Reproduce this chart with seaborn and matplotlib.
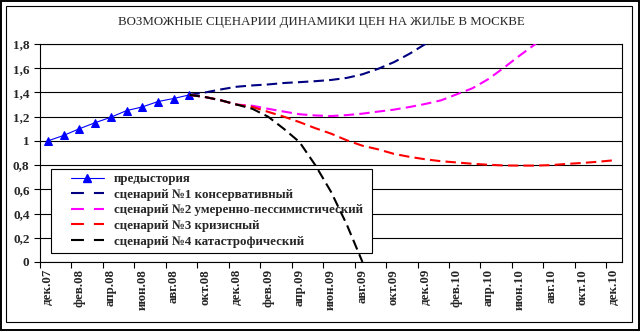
import matplotlib
matplotlib.use('Agg')
import matplotlib.pyplot as plt
import seaborn as sns
import numpy as np
import pandas as pd
from matplotlib.patches import Rectangle
from matplotlib.lines import Line2D

# ---------------- data ----------------
categories = ['дек.07', 'янв.08', 'фев.08', 'мар.08', 'апр.08', 'май.08', 'июн.08', 'июл.08',
              'авг.08', 'сен.08', 'окт.08', 'ноя.08', 'дек.08', 'янв.09', 'фев.09', 'мар.09',
              'апр.09', 'май.09', 'июн.09', 'июл.09', 'авг.09', 'сен.09', 'окт.09', 'ноя.09',
              'дек.09', 'янв.10', 'фев.10', 'мар.10', 'апр.10', 'май.10', 'июн.10', 'июл.10',
              'авг.10', 'сен.10', 'окт.10', 'ноя.10', 'дек.10']

prehistory_start = 0
prehistory = [1.00, 1.045, 1.10, 1.15, 1.195, 1.25, 1.28, 1.325, 1.35, 1.38]

scen1_start = 9
scen1 = [1.38, 1.40, 1.425, 1.447, 1.458, 1.466, 1.478, 1.485, 1.493, 1.503, 1.52,
         1.55, 1.595, 1.65, 1.72, 1.80, 1.90]

scen2_start = 9
scen2 = [1.38, 1.362, 1.335, 1.30, 1.29, 1.265, 1.242, 1.22, 1.21, 1.205, 1.213, 1.225,
         1.242, 1.258, 1.28, 1.305, 1.335, 1.385, 1.435, 1.51, 1.605, 1.705, 1.80, 1.90]

scen3_start = 9
scen3 = [1.38, 1.362, 1.335, 1.30, 1.28, 1.24, 1.20, 1.155, 1.105, 1.06, 1.005, 0.96,
         0.93, 0.893, 0.868, 0.848, 0.832, 0.822, 0.811, 0.803, 0.797, 0.796, 0.796,
         0.80, 0.81, 0.818, 0.828, 0.84]

scen4_start = 9
scen4 = [1.38, 1.362, 1.335, 1.30, 1.265, 1.20, 1.10, 0.99, 0.80, 0.58, 0.31, 0.0]

series_names = ['предыстория',
                'сценарий №1 консервативный',
                'сценарий №2 умеренно-пессимистический',
                'сценарий №3 кризисный',
                'сценарий №4 катастрофический']
series_colors = ['#0000FF', '#000080', '#FF00FF', '#FF0000', '#000000']

yticks = [0, 0.2, 0.4, 0.6, 0.8, 1.0, 1.2, 1.4, 1.6, 1.8]
yticklabels = ['0', '0,2', '0,4', '0,6', '0,8', '1', '1,2', '1,4', '1,6', '1,8']

title = 'ВОЗМОЖНЫЕ СЦЕНАРИИ ДИНАМИКИ ЦЕН НА ЖИЛЬЕ В МОСКВЕ'

# ---------------- build table ----------------
rows = []
for name, start, vals in zip(series_names,
                             [prehistory_start, scen1_start, scen2_start, scen3_start, scen4_start],
                             [prehistory, scen1, scen2, scen3, scen4]):
    for k, v in enumerate(vals):
        rows.append({'series': name, 'idx': start + k, 'value': v})
df = pd.DataFrame(rows)

# ---------------- style ----------------
sns.set_style('white')
plt.rcParams['font.family'] = ['Liberation Serif', 'DejaVu Serif']

W, H = 641, 332
fig = plt.figure(figsize=(W / 100, H / 100), dpi=100)
fig.patch.set_facecolor('white')

def fx(px):
    return px / W

def fy(py):
    return 1 - py / H

ax = fig.add_axes([fx(40), fy(262), 582 / W, 218 / H])
ax.set_axisbelow(True)

dash = (0, (5, 2.5))
for i, name in enumerate(series_names):
    sub = df[df['series'] == name]
    if i == 0:
        sns.lineplot(data=sub, x='idx', y='value', ax=ax, color=series_colors[i],
                     lw=0.8, marker='^', markersize=5.5, markeredgecolor=series_colors[i],
                     estimator=None, sort=True, legend=False, zorder=3)
    else:
        sns.lineplot(data=sub, x='idx', y='value', ax=ax, color=series_colors[i],
                     lw=1.5, linestyle=dash, estimator=None, sort=True, legend=False,
                     zorder=3 + i)

ax.set_xlim(-0.5, len(categories) - 0.5)
ax.set_ylim(0, 1.8)
ax.set_xlabel('')
ax.set_ylabel('')

# y axis
ax.set_yticks(yticks)
ax.set_yticklabels(yticklabels, fontweight='bold')
ax.yaxis.grid(True, color='black', lw=0.8)
ax.xaxis.grid(False)

# x axis: tick marks at boundaries, labels at category centres
ax.set_xticks(np.arange(-0.5, len(categories) - 1, 2))
ax.set_xticklabels([])
ax.set_xticks(np.arange(0, len(categories), 2), minor=True)
ax.set_xticklabels(categories[::2], minor=True, rotation=90, va='top', ha='center',
                   fontweight='bold')
ax.tick_params(axis='x', which='major', direction='out', length=4, width=0.8,
               color='black', bottom=True)
ax.tick_params(axis='x', which='minor', length=0, pad=5, labelsize=9.3, bottom=True)
ax.tick_params(axis='y', which='major', direction='out', length=4, width=0.8,
               color='black', pad=3.5, labelsize=9.5, left=True)

for s in ax.spines.values():
    s.set_visible(True)
    s.set_color('black')
    s.set_linewidth(0.8)

# title
fig.text(fx(321), fy(22), title, ha='center', va='center', fontsize=9.3)

# legend frame (under data lines, over grid) and legend
ax.add_patch(Rectangle((fx(51), fy(253)), (372 - 51) / W, (253 - 169) / H,
                       transform=fig.transFigure, facecolor='white',
                       edgecolor='black', lw=0.8, zorder=2, clip_on=False))
leg_dash = (0, (6.2, 4.8))
handles = [Line2D([], [], color=series_colors[0], lw=0.8, marker='^', markersize=5.5)]
for c in series_colors[1:]:
    handles.append(Line2D([], [], color=c, lw=1.5, linestyle=leg_dash))
leg = ax.legend(handles, series_names, loc='upper left',
                bbox_to_anchor=(fx(70.5), fy(173)), bbox_transform=fig.transFigure,
                frameon=False, borderpad=0, borderaxespad=0, handlelength=2.6,
                handletextpad=0.75, labelspacing=0.28, numpoints=1,
                prop={'size': 9.3, 'weight': 'bold'})
leg.set_zorder(2.5)

# outer double frame
fig.patches.append(Rectangle((fx(1), fy(330)), (638.5 - 1) / W, (330 - 1) / H,
                             transform=fig.transFigure, fill=False,
                             edgecolor='black', lw=1.4))
fig.patches.append(Rectangle((fx(6), fy(322)), (632 - 6) / W, (322 - 6) / H,
                             transform=fig.transFigure, fill=False,
                             edgecolor='black', lw=0.8))

fig.savefig('out.png', dpi=100)
